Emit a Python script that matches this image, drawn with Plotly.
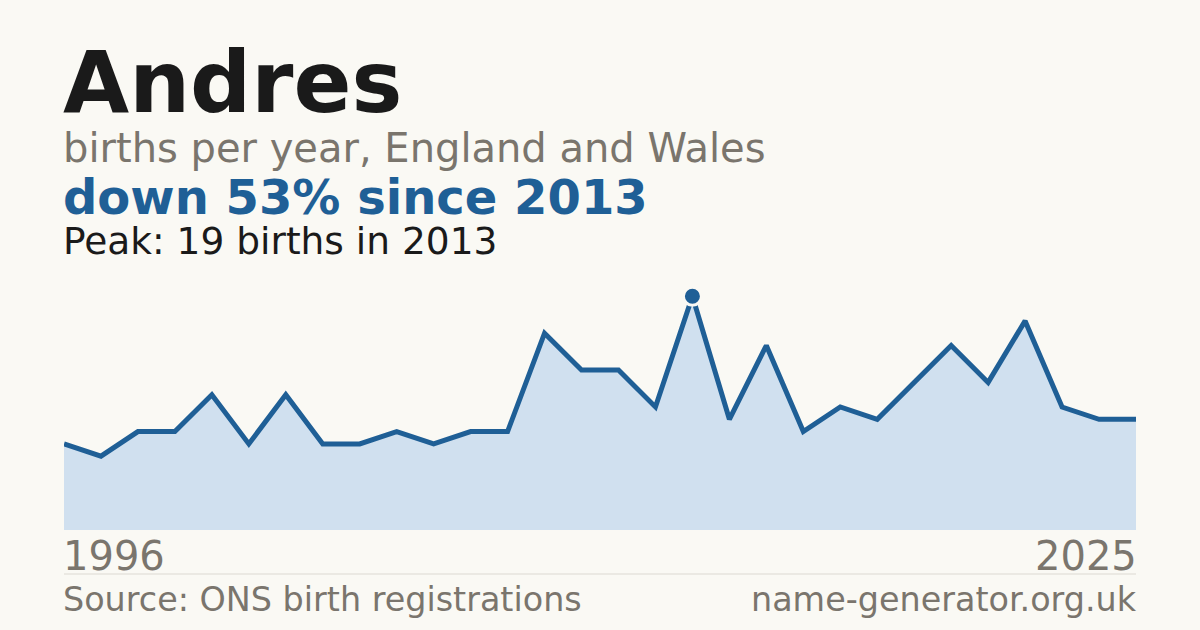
import plotly.graph_objects as go

years = list(range(1996, 2026))
births = [7, 6, 8, 8, 11, 7, 11, 7, 7, 8, 7, 8, 8, 16, 13, 13, 10, 19, 9, 15,
          8, 10, 9, 12, 15, 12, 17, 10, 9, 9]

name = "Andres"
subtitle = "births per year, England and Wales"
change_text = "down 53% since 2013"
peak_text = "Peak: 19 births in 2013"
source_text = "Source: ONS birth registrations"
site_text = "name-generator.org.uk"

BG = "#faf9f4"
BLUE = "#1f5f96"
FILL = "#d0e0ef"
GREY = "#7a756d"
DARK = "#1a1a1a"
FONT = "DejaVu Sans"

peak_val = max(births)
peak_year = years[births.index(peak_val)]

fig = go.Figure()
fig.add_trace(go.Scatter(
    x=years, y=births, mode="lines",
    line=dict(color=BLUE, width=5),
    fill="tozeroy", fillcolor=FILL,
    hoverinfo="skip", showlegend=False,
))
fig.add_trace(go.Scatter(
    x=[peak_year], y=[peak_val], mode="markers",
    marker=dict(color=BLUE, size=18, line=dict(color=BG, width=3)),
    hoverinfo="skip", showlegend=False, cliponaxis=False,
))

# plot area: x 64..1136, y 284..530 px
PL, PR = 64, 1136
PT, PB = 284, 530
H = PB - PT
W = PR - PL


def py(pix):
    return (PB - pix) / H


def px(pix):
    return (pix - PL) / W


annotations = [
    dict(text=f"<b>{name}</b>", x=px(62), y=py(83), font=dict(size=85.5, color=DARK)),
    dict(text=subtitle, x=px(62), y=py(148), font=dict(size=40, color=GREY)),
    dict(text=f"<b>{change_text}</b>", x=px(62), y=py(197), font=dict(size=48, color=BLUE)),
    dict(text=peak_text, x=px(62), y=py(241), font=dict(size=37.5, color=DARK)),
    dict(text=str(years[0]), x=px(62), y=py(556), font=dict(size=40, color=GREY)),
    dict(text=str(years[-1]), x=px(1138), y=py(556), xanchor="right", font=dict(size=40, color=GREY)),
    dict(text=source_text, x=px(62), y=py(599), font=dict(size=33.4, color=GREY)),
    dict(text=site_text, x=px(1138), y=py(599), xanchor="right", font=dict(size=33.4, color=GREY)),
]
for a in annotations:
    a.setdefault("xanchor", "left")
    a.update(xref="paper", yref="paper", yanchor="middle", showarrow=False,
             borderpad=0)
    a["font"]["family"] = FONT

fig.update_layout(
    width=1200, height=630,
    paper_bgcolor=BG, plot_bgcolor=BG,
    margin=dict(l=PL, r=1200 - PR, t=PT, b=630 - PB, pad=0),
    xaxis=dict(range=[years[0], years[-1]], visible=False, fixedrange=True),
    yaxis=dict(range=[0, 20], visible=False, fixedrange=True),
    annotations=annotations,
    shapes=[dict(type="line", xref="paper", yref="paper", x0=0, x1=1,
                 y0=py(574), y1=py(574), line=dict(color="#dcd9d2", width=1))],
    font=dict(family=FONT),
)

fig.write_html("out.html", config={"displayModeBar": False},
               post_script="document.body.style.margin='0';")
